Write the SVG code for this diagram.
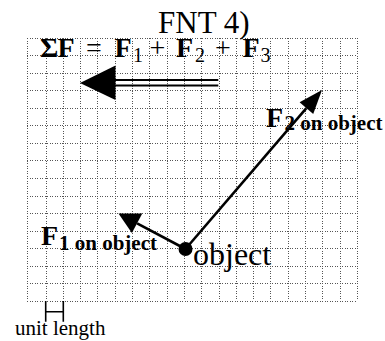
<svg xmlns="http://www.w3.org/2000/svg" width="385" height="341" viewBox="0 0 385 341">
<style>
.grid line{stroke:#555;stroke-width:1;stroke-dasharray:1 1.5;shape-rendering:crispEdges}
.serif{font-family:"Liberation Serif","Times New Roman",serif;fill:#000}
.b{font-weight:bold}
.vec{stroke:#000;stroke-width:2.6;fill:none}
.head{fill:#000;stroke:none}
</style>
<rect width="385" height="341" fill="#fff"/>
<g id="grid" class="grid">
<line x1="27" y1="38" x2="357.4" y2="38"/>
<line x1="27" y1="55.5" x2="357.4" y2="55.5"/>
<line x1="27" y1="73" x2="357.4" y2="73"/>
<line x1="27" y1="90.5" x2="357.4" y2="90.5"/>
<line x1="27" y1="108" x2="357.4" y2="108"/>
<line x1="27" y1="125.7" x2="357.4" y2="125.7"/>
<line x1="27" y1="143.3" x2="357.4" y2="143.3"/>
<line x1="27" y1="160.9" x2="357.4" y2="160.9"/>
<line x1="27" y1="178.4" x2="357.4" y2="178.4"/>
<line x1="27" y1="196" x2="357.4" y2="196"/>
<line x1="27" y1="213.6" x2="357.4" y2="213.6"/>
<line x1="27" y1="231.2" x2="357.4" y2="231.2"/>
<line x1="27" y1="248.8" x2="357.4" y2="248.8"/>
<line x1="27" y1="266.3" x2="357.4" y2="266.3"/>
<line x1="27" y1="283.9" x2="357.4" y2="283.9"/>
<line x1="27" y1="301.4" x2="357.4" y2="301.4"/>
<line x1="27" y1="38" x2="27" y2="301.4"/>
<line x1="46" y1="38" x2="46" y2="301.4"/>
<line x1="63.3" y1="38" x2="63.3" y2="301.4"/>
<line x1="80.6" y1="38" x2="80.6" y2="301.4"/>
<line x1="97.9" y1="38" x2="97.9" y2="301.4"/>
<line x1="115.2" y1="38" x2="115.2" y2="301.4"/>
<line x1="132.5" y1="38" x2="132.5" y2="301.4"/>
<line x1="149.8" y1="38" x2="149.8" y2="301.4"/>
<line x1="167.1" y1="38" x2="167.1" y2="301.4"/>
<line x1="184.4" y1="38" x2="184.4" y2="301.4"/>
<line x1="201.7" y1="38" x2="201.7" y2="301.4"/>
<line x1="219" y1="38" x2="219" y2="301.4"/>
<line x1="236.3" y1="38" x2="236.3" y2="301.4"/>
<line x1="253.6" y1="38" x2="253.6" y2="301.4"/>
<line x1="270.9" y1="38" x2="270.9" y2="301.4"/>
<line x1="288.2" y1="38" x2="288.2" y2="301.4"/>
<line x1="305.5" y1="38" x2="305.5" y2="301.4"/>
<line x1="322.8" y1="38" x2="322.8" y2="301.4"/>
<line x1="340.1" y1="38" x2="340.1" y2="301.4"/>
<line x1="357.4" y1="38" x2="357.4" y2="301.4"/>
</g>
<g id="title">
<text class="serif" x="158" y="33" font-size="31">FNT 4)</text>
</g>
<g id="equation" class="serif">
<text x="40" y="56.5" font-size="28" class="b">Σ</text>
<text x="57.5" y="56.5" font-size="28" class="b">F</text>
<text x="86" y="56.5" font-size="28">=</text>
<text x="114.5" y="56.5" font-size="28" class="b">F</text>
<text x="133" y="61.5" font-size="20">1</text>
<text x="149.5" y="56.5" font-size="28">+</text>
<text x="176" y="56.5" font-size="28" class="b">F</text>
<text x="195" y="61.5" font-size="20">2</text>
<text x="215" y="56.5" font-size="28">+</text>
<text x="242.5" y="56.5" font-size="28" class="b">F</text>
<text x="260.5" y="61.5" font-size="20">3</text>
</g>
<g id="connectors">
<g id="net-force">
<line x1="114" y1="80" x2="218.3" y2="80" stroke="#000" stroke-width="2"/>
<line x1="114" y1="85.5" x2="218.3" y2="85.5" stroke="#000" stroke-width="2"/>
<polygon class="head" points="80,83 115.5,65.5 115.5,100"/>
</g>
<g id="f1-arrow">
<line class="vec" x1="185.5" y1="249" x2="137.1" y2="223.3"/>
<polygon class="head" points="118.5,213.5 142.3,213.6 131.9,233"/>
</g>
<g id="f2-arrow">
<line class="vec" x1="185.5" y1="249" x2="306.4" y2="108.2"/>
<polygon class="head" points="322,90 313.2,114.1 299.6,102.3"/>
</g>
</g>
<g id="object">
<circle cx="185.5" cy="249" r="7" fill="#000"/>
<text class="serif" x="193" y="265" font-size="32">object</text>
</g>
<g id="f1-label" class="serif b">
<text x="41" y="245" font-size="28">F</text>
<text x="59" y="249.5" font-size="21">1 on object</text>
</g>
<g id="f2-label" class="serif b">
<text x="266" y="126.5" font-size="28">F</text>
<text x="284.5" y="130" font-size="21">2 on object</text>
</g>
<g id="unit">
<path d="M45.7,301 V321.7 M63.3,301 V321.7 M45.7,311.7 H63.3" stroke="#000" stroke-width="1.6" fill="none"/>
<text class="serif" x="15" y="334.5" font-size="21">unit length</text>
</g>
</svg>
